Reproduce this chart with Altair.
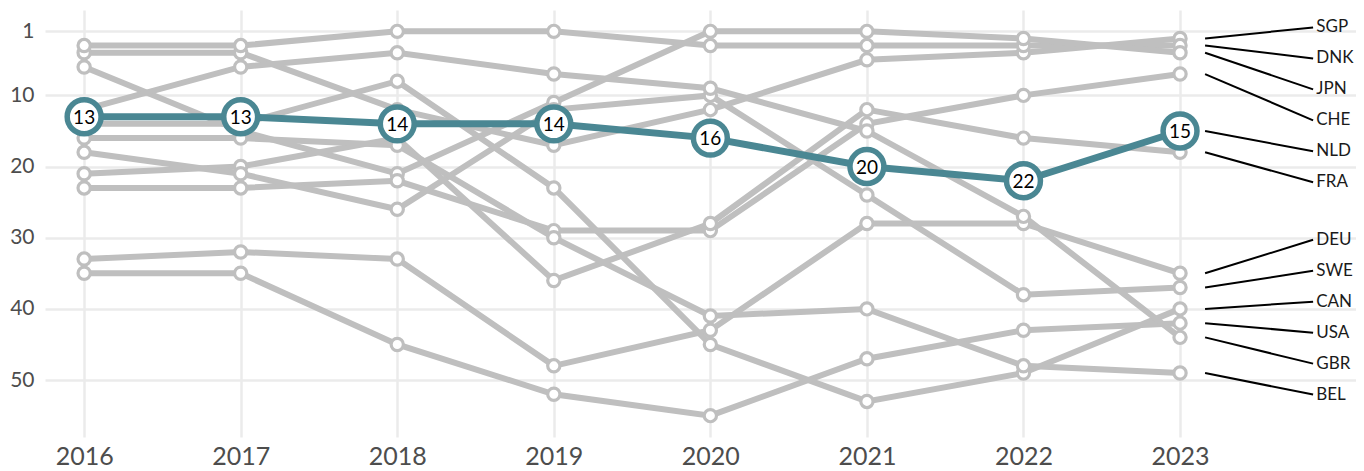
import altair as alt
import pandas as pd

years = [2016, 2017, 2018, 2019, 2020, 2021, 2022, 2023]
countries = ["SGP", "DNK", "JPN", "CHE", "NLD", "FRA", "DEU", "SWE", "CAN", "USA", "GBR", "BEL"]

SGP = [4, 4, 12, 17, 12, 5, 4, 2]
DNK = [3, 3, 1, 1, 3, 3, 3, 3]
JPN = [6, 15, 21, 11, 1, 1, 2, 4]
CHE = [23, 23, 22, 29, 29, 14, 10, 7]
NLD = [13, 13, 14, 14, 16, 20, 22, 15]
FRA = [21, 20, 16, 36, 28, 12, 16, 18]
DEU = [33, 32, 33, 48, 43, 28, 28, 35]
SWE = [18, 21, 26, 12, 10, 24, 38, 37]
CAN = [14, 14, 8, 23, 45, 53, 49, 40]
USA = [35, 35, 45, 52, 55, 47, 43, 42]
GBR = [12, 6, 4, 7, 9, 15, 27, 44]
BEL = [16, 16, 17, 30, 41, 40, 48, 49]

y_ticks = [1, 10, 20, 30, 40, 50]
highlight = "NLD"

series = dict(zip(countries, [SGP, DNK, JPN, CHE, NLD, FRA, DEU, SWE, CAN, USA, GBR, BEL]))

rows = []
for c in countries:
    for yr, r in zip(years, series[c]):
        rows.append({"country": c, "year": yr, "rank": r})
df = pd.DataFrame(rows)
grey_df = df[df.country != highlight]
hl_df = df[df.country == highlight]

# --- simple label repel (isotonic spacing) for the right-hand labels ---
GAP = 4.35
TOP_LIMIT = 0.45
last = sorted(((series[c][-1], c) for c in countries))
vals = [v for v, _ in last]
u = [v - i * GAP for i, v in enumerate(vals)]
blocks = []  # [sum, count]
for val in u:
    blocks.append([val, 1])
    while len(blocks) > 1 and blocks[-2][0] / blocks[-2][1] > blocks[-1][0] / blocks[-1][1]:
        s, n = blocks.pop()
        blocks[-1][0] += s
        blocks[-1][1] += n
q = []
for s, n in blocks:
    q += [max(TOP_LIMIT, s / n)] * n
lab_rows = []
for i, (v, c) in enumerate(last):
    lab_rows.append({"country": c, "rank": v, "label_rank": q[i] + i * GAP,
                     "x0": years[-1] + 0.16, "x1": years[-1] + 0.85, "xt": years[-1] + 0.87})
lab_df = pd.DataFrame(lab_rows)

FONT = "Lato"
GREY = "#bfbfbf"
TEAL = "#4a8793"

x_scale = alt.Scale(domain=[2015.75, 2024.124], nice=False, zero=False)
y_scale = alt.Scale(domain=[-2, 58], reverse=True, nice=False, zero=False)

x_enc = alt.X("year:Q", scale=x_scale,
              axis=alt.Axis(values=years, format="d", title=None, labelFontSize=25,
                            labelPadding=7, labelColor="#4d4d4d", labelFont=FONT,
                            domain=False, ticks=False, grid=True, gridColor="#ebebeb",
                            gridWidth=2.5))
y_enc = alt.Y("rank:Q", scale=y_scale,
              axis=alt.Axis(values=y_ticks, title=None, labelFontSize=21, labelPadding=11,
                            labelColor="#4d4d4d", labelFont=FONT, domain=False, ticks=False,
                            grid=True, gridColor="#ebebeb", gridWidth=2.5))

base_grey = alt.Chart(grey_df)
grey_lines = base_grey.mark_line(color=GREY, strokeWidth=6).encode(
    x=x_enc, y=y_enc, detail="country:N")
grey_pts = base_grey.mark_point(shape="circle", filled=True, fill="white", stroke=GREY,
                                strokeWidth=3.2, size=150, opacity=1).encode(
    x="year:Q", y="rank:Q")

base_hl = alt.Chart(hl_df)
hl_line = base_hl.mark_line(color=TEAL, strokeWidth=7).encode(x="year:Q", y="rank:Q")
hl_pts = base_hl.mark_point(shape="circle", filled=True, fill="white", stroke=TEAL,
                            strokeWidth=5.5, size=1150, opacity=1).encode(
    x="year:Q", y="rank:Q")
hl_text = base_hl.mark_text(font=FONT, fontSize=19, color="black", baseline="middle",
                            align="center", dy=1).encode(
    x="year:Q", y="rank:Q", text="rank:Q")

base_lab = alt.Chart(lab_df)
leaders = base_lab.mark_rule(color="black", strokeWidth=2).encode(
    x="x0:Q", x2="x1:Q", y="rank:Q", y2="label_rank:Q")
labels = base_lab.mark_text(font=FONT, fontSize=17, color="#1a1a1a", align="left",
                            baseline="middle").encode(
    x="xt:Q", y="label_rank:Q", text="country:N")

chart = alt.layer(grey_lines, grey_pts, hl_line, hl_pts, hl_text, leaders, labels).properties(
    width=1311, height=427,
    background="white",
    autosize=alt.AutoSizeParams(type="none"),
    padding={"left": 37, "top": 2, "right": 0, "bottom": 34},
).configure_view(stroke=None)

chart.save("out.html", embed_options={"renderer": "svg", "actions": False})
